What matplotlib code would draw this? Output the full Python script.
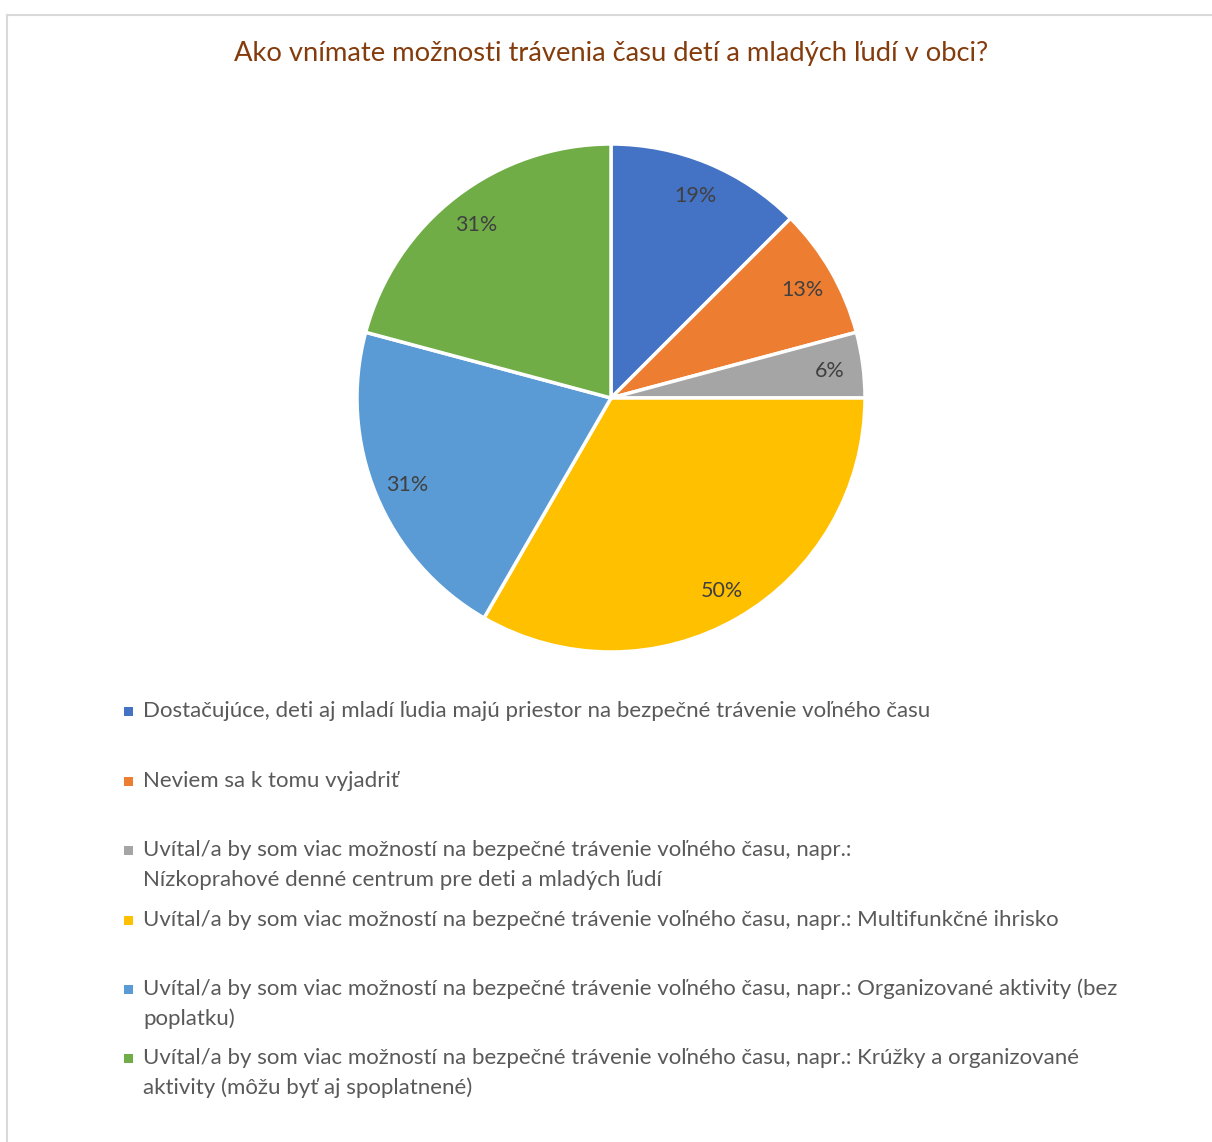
import matplotlib.pyplot as plt
from matplotlib.patches import Rectangle
from matplotlib.lines import Line2D

plt.rcParams['font.family'] = ['Lato', 'DejaVu Sans']

title = "Ako vnímate možnosti trávenia času detí a mladých ľudí v obci?"
# share of respondents (%), multiple answers allowed
values = [18.75, 12.5, 6.25, 50, 31.25, 31.25]
colors = ['#4472C4', '#ED7D31', '#A5A5A5', '#FFC000', '#5B9BD5', '#70AD47']
legend_labels = [
    "Dostačujúce, deti aj mladí ľudia majú priestor na bezpečné trávenie voľného času",
    "Neviem sa k tomu vyjadriť",
    "Uvítal/a by som viac možností na bezpečné trávenie voľného času, napr.:\nNízkoprahové denné centrum pre deti a mladých ľudí",
    "Uvítal/a by som viac možností na bezpečné trávenie voľného času, napr.: Multifunkčné ihrisko",
    "Uvítal/a by som viac možností na bezpečné trávenie voľného času, napr.: Organizované aktivity (bez\npoplatku)",
    "Uvítal/a by som viac možností na bezpečné trávenie voľného času, napr.: Krúžky a organizované\naktivity (môžu byť aj spoplatnené)",
]
pct_labels = [f"{int(v + 0.5)}%" for v in values]

W, H = 1212, 1142
fig = plt.figure(figsize=(W / 100, H / 100), dpi=100)

# chart area border
fig.add_artist(Line2D([7 / W, 7 / W], [0, 1 - 15 / H], color='#d9d9d9', lw=1.5))
fig.add_artist(Line2D([7 / W, 1], [1 - 15 / H, 1 - 15 / H], color='#d9d9d9', lw=1.5))

fig.text(611 / W, 1 - 53 / H, title, ha='center', va='center',
         fontsize=19.7, color='#843C0C')

cx, cy, r = 611, 398, 254
ax = fig.add_axes([(cx - r) / W, 1 - (cy + r) / H, 2 * r / W, 2 * r / H])
wedges, texts = ax.pie(values, labels=pct_labels, colors=colors, startangle=90,
                       counterclock=False, labeldistance=0.87,
                       wedgeprops=dict(edgecolor='white', linewidth=2.5),
                       textprops=dict(fontsize=15.5, color='#404040'))
for t in texts:
    t.set_ha('center')
    t.set_va('center_baseline')
ax.set_xlim(-1, 1)
ax.set_ylim(-1, 1)
ax.set_aspect('equal')
ax.axis('off')

# legend entries (first-line y positions in px)
legend_y = [711, 781, 850, 920, 989, 1058]
line_h = 30
for lab, c, y in zip(legend_labels, colors, legend_y):
    fig.add_artist(Rectangle((124 / W, 1 - (y + 5) / H), 9 / W, 9 / H,
                             transform=fig.transFigure, color=c, lw=0))
    lines = lab.split("\n")
    for i, ln in enumerate(lines):
        fig.text(143 / W, 1 - (y + i * line_h) / H, ln, ha='left', va='center',
                 fontsize=16.0, color='#595959')

fig.savefig('out.png', dpi=100, facecolor='white')
